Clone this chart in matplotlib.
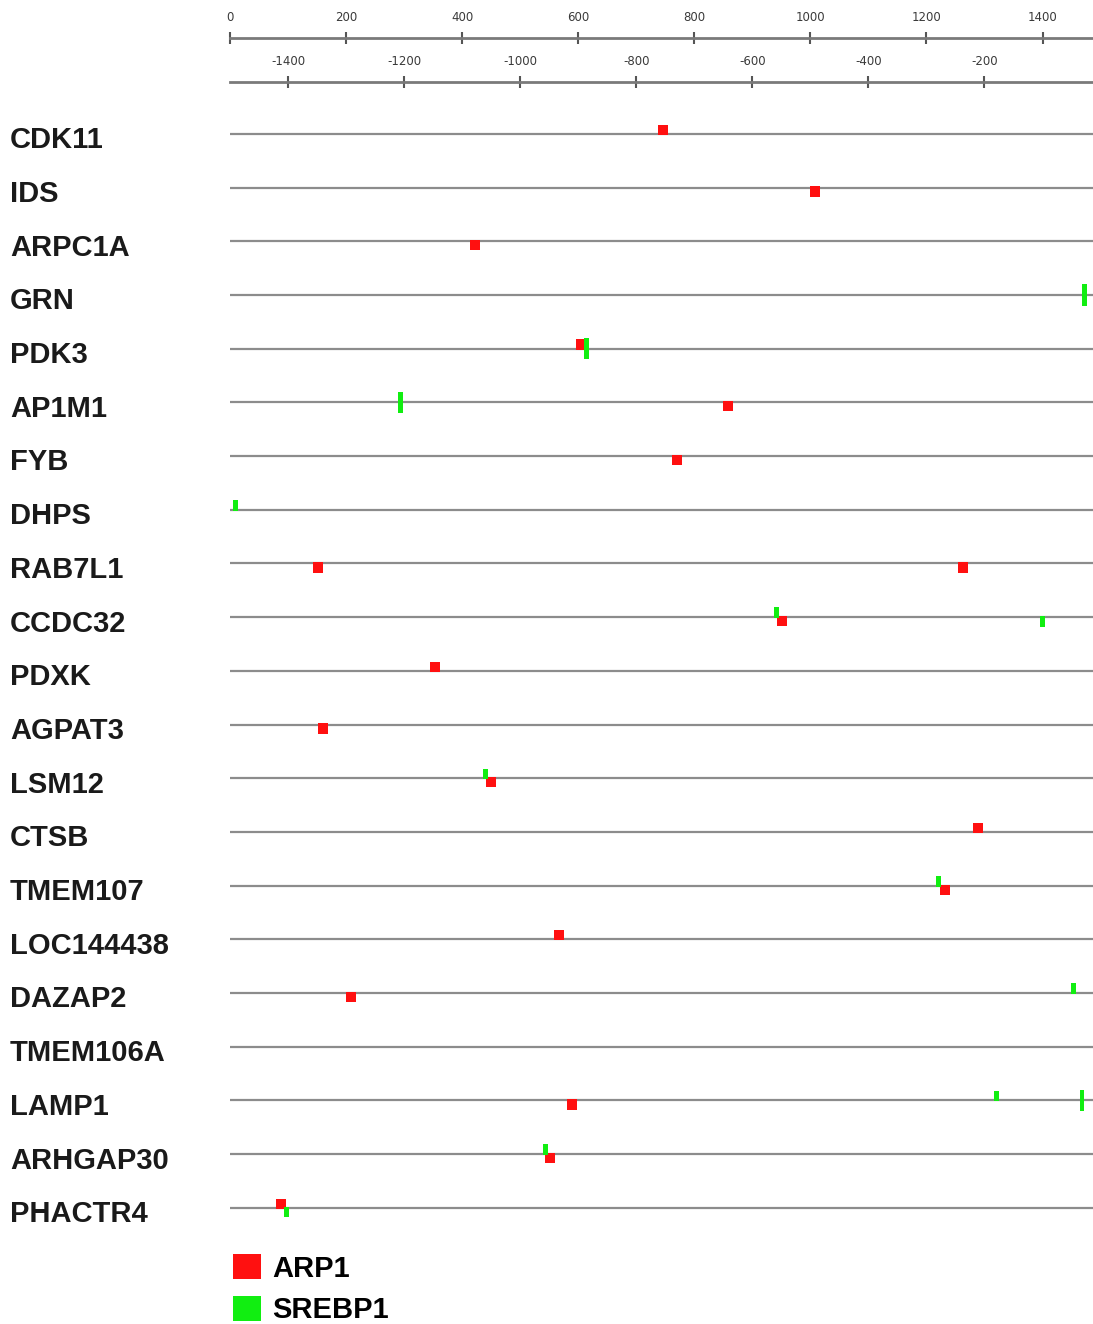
import matplotlib
matplotlib.use("Agg")
import matplotlib.pyplot as plt
from matplotlib.patches import Patch
from matplotlib.transforms import blended_transform_factory

plt.rcParams['font.family'] = ['Liberation Sans', 'DejaVu Sans']

# genes, top to bottom
genes = ["CDK11", "IDS", "ARPC1A", "GRN", "PDK3", "AP1M1", "FYB", "DHPS",
         "RAB7L1", "CCDC32", "PDXK", "AGPAT3", "LSM12", "CTSB", "TMEM107",
         "LOC144438", "DAZAP2", "TMEM106A", "LAMP1", "ARHGAP30", "PHACTR4"]

# ARP1 binding sites: gene, position (top scale), side of the line
arp1_gene = ["CDK11", "IDS", "ARPC1A", "PDK3", "AP1M1", "FYB", "RAB7L1", "RAB7L1",
             "CCDC32", "PDXK", "AGPAT3", "LSM12", "CTSB", "TMEM107", "LOC144438",
             "DAZAP2", "LAMP1", "ARHGAP30", "PHACTR4"]
arp1_pos = [746, 1008, 422, 605, 858, 770, 152, 1263,
            951, 353, 160, 450, 1289, 1232, 567,
            208, 589, 551, 88]
arp1_side = ["up", "down", "down", "up", "down", "down", "down", "down",
             "down", "up", "down", "down", "up", "down", "up",
             "down", "down", "down", "up"]

# SREBP1 binding sites
srebp1_gene = ["GRN", "PDK3", "AP1M1", "DHPS", "CCDC32", "CCDC32", "LSM12",
               "TMEM107", "DAZAP2", "LAMP1", "LAMP1", "ARHGAP30", "PHACTR4"]
srebp1_pos = [1473, 615, 293, 10, 941, 1400, 441,
              1220, 1454, 1321, 1468, 543, 98]
srebp1_side = ["both", "both", "both", "up", "up", "down", "up",
               "up", "up", "up", "both", "up", "down"]

top_ticks = [0, 200, 400, 600, 800, 1000, 1200, 1400]
bottom_ticks = [-1400, -1200, -1000, -800, -600, -400, -200]

W, H = 1093, 1324
fig = plt.figure(figsize=(W / 100, H / 100), dpi=100)

# main track area
ax = fig.add_axes([230 / W, 1 - 1240 / H, 863 / W, 1140 / H])
ax.set_xlim(0, 1487)
ax.set_ylim(20.6, -0.63)
ax.axis("off")

rows = list(range(len(genes)))
ax.hlines(rows, 0, 1487, color="#8c8c8c", linewidth=1.6, zorder=1)

lbl_tr = blended_transform_factory(fig.transFigure, ax.transData)
for i, g in enumerate(genes):
    ax.text(10 / W, i + 0.12, g, transform=lbl_tr, fontsize=21,
            fontweight="bold", va="center", ha="left", color="#1a1a1a")


def draw_sites(gene_list, pos, side, color, w, h):
    xs, bottoms, heights = [], [], []
    for g, p, s in zip(gene_list, pos, side):
        r = genes.index(g)
        xs.append(p)
        if s == "up":
            bottoms.append(r - h + 0.02)
            heights.append(h)
        elif s == "down":
            bottoms.append(r - 0.02)
            heights.append(h)
        else:
            bottoms.append(r - h)
            heights.append(2 * h)
    ax.bar(xs, heights, bottom=bottoms, width=w, color=color,
           linewidth=0, zorder=3)


draw_sites(arp1_gene, arp1_pos, arp1_side, "#ff1010", 17, 0.19)
draw_sites(srebp1_gene, srebp1_pos, srebp1_side, "#11ee11", 8.5, 0.2)

# scales at the top
def scale_axis(ypix, lo, hi, ticks):
    a = fig.add_axes([230 / W, 1 - ypix / H, 863 / W, 0.0001])
    a.set_xlim(lo, hi)
    a.set_yticks([])
    for sp in ["left", "right", "bottom"]:
        a.spines[sp].set_visible(False)
    a.spines["top"].set_color("#7a7a7a")
    a.spines["top"].set_linewidth(2)
    a.xaxis.set_ticks_position("top")
    a.set_xticks(ticks)
    a.set_xticklabels([str(t) for t in ticks])
    a.tick_params(axis="x", direction="inout", length=8, width=1.5,
                  color="#555555", labelsize=8.5, labelcolor="#3a3a3a", pad=6)
    for t in a.get_xticklabels():
        t.set_fontfamily("DejaVu Sans")
    a.patch.set_alpha(0)
    return a


scale_axis(38, 0, 1487, top_ticks)
scale_axis(82, -1500, -13, bottom_ticks)

handles = [Patch(facecolor="#ff1010", edgecolor="none", label="ARP1"),
           Patch(facecolor="#11ee11", edgecolor="none", label="SREBP1")]
fig.legend(handles=handles, loc="upper left",
           bbox_to_anchor=(233 / W, 1 - 1254 / H), frameon=False,
           prop={"size": 21, "weight": "bold"}, handlelength=0.95,
           handleheight=0.95, handletextpad=0.4, labelspacing=0.45,
           borderpad=0, borderaxespad=0)

fig.savefig("out.png", dpi=100)
